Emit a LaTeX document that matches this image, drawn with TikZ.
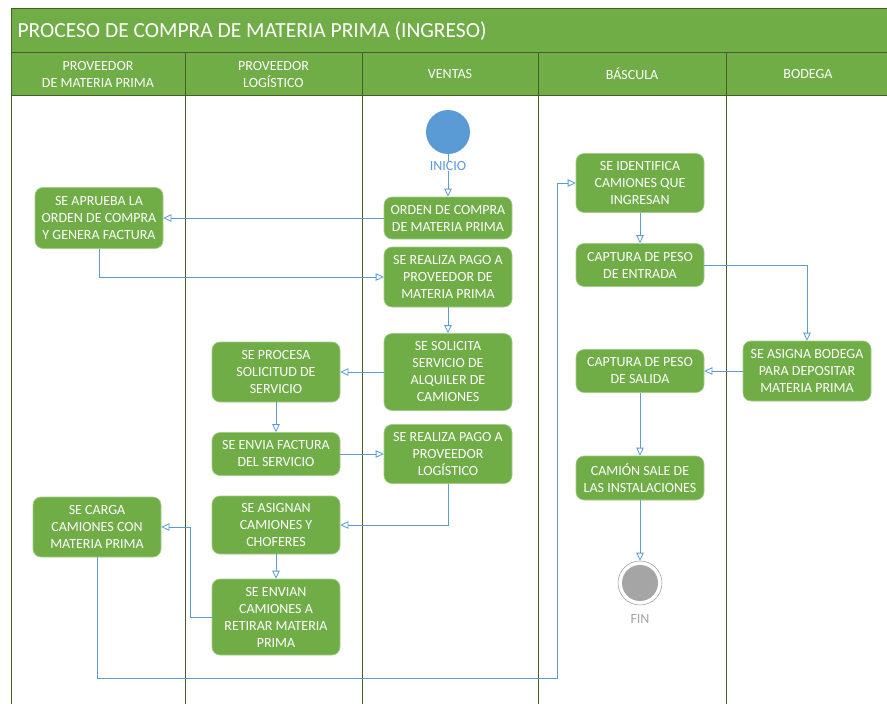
\documentclass[tikz,border=0pt]{standalone}
\usepackage{fontspec}
\setmainfont{Carlito}
\usetikzlibrary{arrows.meta}
\definecolor{verde}{HTML}{70AD47}
\definecolor{verdeosc}{HTML}{435E28}
\definecolor{borde}{HTML}{A2CD86}
\definecolor{azul}{HTML}{5B9BD5}
\definecolor{gris}{HTML}{A5A5A5}
\begin{document}
\begin{tikzpicture}[x=1pt,y=-1pt,
    actividad/.style={rectangle, rounded corners=8pt, fill=verde, draw=borde, line width=0.6pt,
        text=white, align=center, minimum width=128pt, inner sep=2pt,
        font=\fontsize{14}{17}\selectfont},
    flujo/.style={draw=azul, line width=0.8pt, -{Triangle[open, length=8pt, width=7.5pt]}},
    carril/.style={draw=verdeosc, line width=1pt},
    encabezado/.style={text=white, align=center, font=\fontsize{14}{17}\selectfont}]
\useasboundingbox (0,0) rectangle (887,704);
\fill[white] (0,0) rectangle (887,704);
\fill[verde] (11,8) rectangle (890,95);
\draw[carril] (890,8) -- (11,8) -- (11,704);
\draw[carril] (11,52) -- (890,52);
\draw[carril] (11,95) -- (890,95);
\draw[carril] (185,52) -- (185,704);
\draw[carril] (362,52) -- (362,704);
\draw[carril] (538,52) -- (538,704);
\draw[carril] (726,52) -- (726,704);
\node[text=white, anchor=west, font=\fontsize{21.5}{25}\selectfont] (titulo) at (14,31) {PROCESO DE COMPRA DE MATERIA PRIMA (INGRESO)};
\node[encabezado] (c1) at (98,74.5) {PROVEEDOR\\DE MATERIA PRIMA};
\node[encabezado] (c2) at (273.5,74.5) {PROVEEDOR\\LOGÍSTICO};
\node[encabezado] (c3) at (450,74) {VENTAS};
\node[encabezado] (c4) at (632,74) {BÁSCULA};
\node[encabezado] (c5) at (808,74) {BODEGA};
\node[circle, fill=azul, minimum size=44pt, inner sep=0pt] (inicio) at (448,132) {};
\node[text=azul, font=\fontsize{14}{17}\selectfont, fill=white, inner sep=0.5pt] (tinicio) at (448,166) {INICIO};
\node[actividad, minimum height=42pt] (orden) at (448,218) {ORDEN DE COMPRA\\DE MATERIA PRIMA};
\node[actividad, minimum height=60pt] (pagomp) at (448,277) {SE REALIZA PAGO A\\PROVEEDOR DE\\MATERIA PRIMA};
\node[actividad, minimum height=61pt] (aprueba) at (99,218) {SE APRUEBA LA\\ORDEN DE COMPRA\\Y GENERA FACTURA};
\node[actividad, minimum height=77pt] (solicita) at (448,372) {SE SOLICITA\\SERVICIO DE\\ALQUILER DE\\CAMIONES};
\node[actividad, minimum height=60pt] (procesa) at (276,372) {SE PROCESA\\SOLICITUD DE\\SERVICIO};
\node[actividad, minimum height=43pt] (factura) at (276,454) {SE ENVIA FACTURA\\DEL SERVICIO};
\node[actividad, minimum height=59pt] (pagolog) at (448,454) {SE REALIZA PAGO A\\PROVEEDOR\\LOGÍSTICO};
\node[actividad, minimum height=58pt] (asignan) at (276,525) {SE ASIGNAN\\CAMIONES Y\\CHOFERES};
\node[actividad, minimum height=76pt] (envian) at (276,617) {SE ENVIAN\\CAMIONES A\\RETIRAR MATERIA\\PRIMA};
\node[actividad, minimum height=60pt] (carga) at (97,527) {SE CARGA\\CAMIONES CON\\MATERIA PRIMA};
\node[actividad, minimum height=59pt] (identifica) at (640,183) {SE IDENTIFICA\\CAMIONES QUE\\INGRESAN};
\node[actividad, minimum height=43pt] (entrada) at (640,265) {CAPTURA DE PESO\\DE ENTRADA};
\node[actividad, minimum height=60pt] (bodega) at (807,371) {SE ASIGNA BODEGA\\PARA DEPOSITAR\\MATERIA PRIMA};
\node[actividad, minimum height=43pt] (salida) at (640,371) {CAPTURA DE PESO\\DE SALIDA};
\node[actividad, minimum height=44pt] (camion) at (640,478) {CAMIÓN SALE DE\\LAS INSTALACIONES};
\node[circle, draw=gris, line width=0.6pt, fill=white, minimum size=44pt, inner sep=0pt] (fin) at (640,583) {};
\node[circle, fill=gris, minimum size=36pt, inner sep=0pt] (finint) at (fin) {};
\node[text=gris, font=\fontsize{14}{17}\selectfont] (tfin) at (640,619) {FIN};
\coordinate (rodeo) at (557,678);
\coordinate (vuelta) at (190,617);
\draw[flujo] (tinicio) -- (orden);
\draw[draw=azul, line width=0.8pt] (inicio) -- (tinicio);
\draw[flujo] (orden) -- (aprueba);
\draw[flujo] (aprueba) |- (pagomp);
\draw[flujo] (pagomp) -- (solicita);
\draw[flujo] (solicita) -- (procesa);
\draw[flujo] (procesa) -- (factura);
\draw[flujo] (factura) -- (pagolog);
\draw[flujo] (pagolog) |- (asignan);
\draw[flujo] (asignan) -- (envian);
\draw[flujo] (envian) -- (vuelta) |- (carga);
\draw[flujo] (carga) |- (rodeo) |- (identifica);
\draw[flujo] (identifica) -- (entrada);
\draw[flujo] (entrada) -| (bodega);
\draw[flujo] (bodega) -- (salida);
\draw[flujo] (salida) -- (camion);
\draw[flujo] (camion) -- (fin);
\end{tikzpicture}
\end{document}
